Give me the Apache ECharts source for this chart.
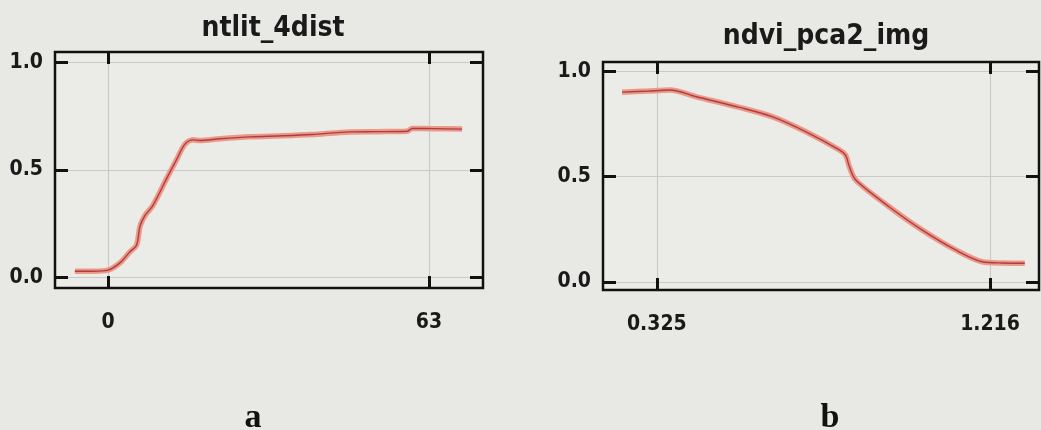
<!DOCTYPE html>
<html>
<head>
<meta charset="utf-8">
<script src="https://cdn.jsdelivr.net/npm/echarts@6/dist/echarts.min.js"></script>
<style>
html,body{margin:0;padding:0;background:#e8e8e5;}
#c{width:1041px;height:430px;}
</style>
</head>
<body>
<div id="c"></div>
<script>
// Panel a: ntlit_4dist
const titleA = 'ntlit_4dist';
const xA = [-6.5, -3, 0, 2.4, 4.3, 5.6, 6.3, 7.3, 8.8, 11.5, 13.5, 15.1, 16.7, 18, 22, 27.9, 34.3, 40, 47.5, 53, 58.7, 59.7, 64, 69.5];
const yA = [0.03, 0.03, 0.035, 0.07, 0.12, 0.15, 0.24, 0.29, 0.335, 0.46, 0.55, 0.62, 0.64, 0.637, 0.645, 0.654, 0.659, 0.665, 0.677, 0.678, 0.68, 0.693, 0.692, 0.69];
const xTicksA = [0, 63];
// Panel b: ndvi_pca2_img
const titleB = 'ndvi_pca2_img';
const xB = [0.232, 0.30, 0.360, 0.431, 0.546, 0.635, 0.724, 0.813, 0.830, 0.840, 0.857, 0.946, 1.035, 1.124, 1.195, 1.25, 1.309];
const yB = [0.90, 0.905, 0.91, 0.878, 0.828, 0.783, 0.712, 0.626, 0.60, 0.546, 0.483, 0.357, 0.246, 0.152, 0.096, 0.09, 0.089];
const xTicksB = [0.325, 1.216];
const yTicks = [0, 0.5, 1.0];
const panelLabels = ['a', 'b'];

const FONT = "'Liberation Sans Narrow', 'DejaVu Sans Condensed', 'Liberation Sans', sans-serif";

function pairs(xs, ys){ return xs.map((x,i)=>[x, ys[i]]); }

function xAxes(gi, min, max, ticks, fmt){
  const common = {type:'value', gridIndex:gi, min:min, max:max, axisLine:{show:false, onZero:false}};
  return [
    Object.assign({}, common, {
      position:'bottom',
      axisTick:{show:true, inside:true, length:12, customValues:ticks, lineStyle:{color:'#111', width:3}},
      axisLabel:{show:true, customValues:ticks, margin:24, color:'#1a1a1a', fontFamily:FONT, fontWeight:'bold', fontSize:21, formatter:fmt},
      splitLine:{show:true, lineStyle:{color:'#c9c9c6', width:1.2}}
    }),
    Object.assign({}, common, {
      position:'top',
      axisTick:{show:true, inside:true, length:12, customValues:ticks, lineStyle:{color:'#111', width:3}},
      axisLabel:{show:false},
      splitLine:{show:false}
    })
  ];
}
function yAxes(gi, min, max){
  const common = {type:'value', gridIndex:gi, min:min, max:max, axisLine:{show:false, onZero:false}};
  return [
    Object.assign({}, common, {
      position:'left',
      axisTick:{show:true, inside:true, length:13, customValues:yTicks, lineStyle:{color:'#111', width:3}},
      axisLabel:{show:true, customValues:yTicks, margin:12, color:'#1a1a1a', fontFamily:FONT, fontWeight:'bold', fontSize:21, formatter:v=>v.toFixed(1)},
      splitLine:{show:true, lineStyle:{color:'#c9c9c6', width:1.2}}
    }),
    Object.assign({}, common, {
      position:'right',
      axisTick:{show:true, inside:true, length:13, customValues:yTicks, lineStyle:{color:'#111', width:3}},
      axisLabel:{show:false},
      splitLine:{show:false}
    })
  ];
}

function lineSeries(xi, yi, data){
  return [
    {type:'line', xAxisIndex:xi, yAxisIndex:yi, data:data, showSymbol:false, smooth:0.3,
     lineStyle:{color:'#eb9a88', width:5.5}, z:3, silent:true},
    {type:'line', xAxisIndex:xi, yAxisIndex:yi, data:data, showSymbol:false, smooth:0.3,
     lineStyle:{color:'#a52a3c', width:1.4, opacity:0.85}, z:4, silent:true}
  ];
}

const chart = echarts.init(document.getElementById('c'), null, {renderer:'canvas'});
chart.setOption({
  backgroundColor:'#e8e8e5',
  animation:false,
  title:[
    {text:titleA, left:268, top:10, textAlign:'center', textStyle:{fontFamily:FONT, fontWeight:'bold', fontSize:28, color:'#1a1a1a'}},
    {text:titleB, left:821, top:18, textAlign:'center', textStyle:{fontFamily:FONT, fontWeight:'bold', fontSize:28, color:'#1a1a1a'}},
    {text:panelLabels[0], left:248, top:396, textAlign:'center', textStyle:{fontFamily:"'Liberation Serif', serif", fontWeight:'bold', fontSize:34, color:'#111'}},
    {text:panelLabels[1], left:825, top:396, textAlign:'center', textStyle:{fontFamily:"'Liberation Serif', serif", fontWeight:'bold', fontSize:34, color:'#111'}}
  ],
  grid:[
    {left:55, top:52, width:428, height:236, show:true, borderColor:'#111', borderWidth:2.5, backgroundColor:'#ebebe8'},
    {left:603, top:62, width:436, height:228, show:true, borderColor:'#111', borderWidth:2.5, backgroundColor:'#ebebe8'}
  ],
  xAxis:[].concat(
    xAxes(0, -10.4, 73.6, xTicksA, v=>String(v)),
    xAxes(1, 0.181, 1.347, xTicksB, v=>v.toFixed(3))
  ),
  yAxis:[].concat(
    yAxes(0, -0.048, 1.048),
    yAxes(1, -0.038, 1.043)
  ),
  series:[].concat(
    lineSeries(0, 0, pairs(xA, yA)),
    lineSeries(2, 2, pairs(xB, yB))
  )
});
</script>
</body>
</html>
